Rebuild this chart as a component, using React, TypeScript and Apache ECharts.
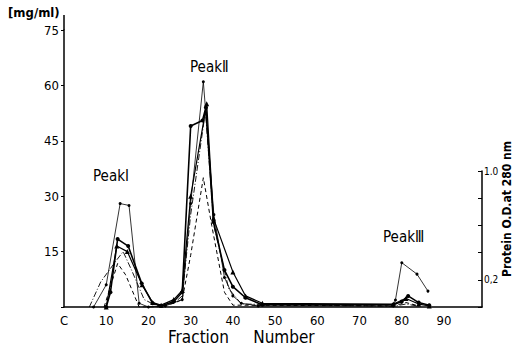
import React, { useEffect, useRef } from "react";
import * as echarts from "echarts";

// Fraction number vs. concentration (mg/ml)
const seriesA: number[][] = [[7, 0], [10, 6], [13.3, 28], [15.4, 27.5], [17.8, 1], [20, 0], [24, 0.3], [28, 2], [30, 28], [33, 61], [35.5, 25], [38, 8], [40, 3], [42, 1], [46, 0.3], [78, 0.3], [78.5, 1.9], [80, 12], [83.6, 8.9], [86.2, 4.3]];
const seriesB: number[][] = [[10, 0], [11, 4], [12.7, 18.4], [15.2, 16.5], [18.4, 6.4], [21, 1], [23, 0.3], [26, 1.5], [28, 4], [30, 49], [32.8, 50.5], [33.6, 54], [35.4, 23], [38, 10], [40, 5.5], [43, 2.5], [47, 0.6], [78, 0.6], [80, 1.5], [81.5, 3], [84, 1.2], [86.5, 0.5]];
const seriesC: number[][] = [[10, 0], [12.5, 16.5], [15, 15], [18.5, 6], [21, 1.2], [23, 0.5], [26, 2], [28, 4.5], [30, 30], [33.8, 55], [35.4, 24], [40, 9.5], [43, 3], [47, 1], [78, 0.8], [81, 2.3], [84, 0.8], [86.5, 0.3]];
const seriesD: number[][] = [[9.5, 0], [12.7, 11.8], [14.6, 8.7], [17.8, 0], [22, 0], [26, 1], [28, 2], [30, 14], [33, 35], [35, 22], [38, 4], [40, 0.5], [78, 0.3], [81, 1.2], [84, 0.3]];
const seriesE: number[][] = [[6, 0], [8.7, 6.8], [12, 12], [14, 15], [16, 10], [19, 2], [22, 0.3], [26, 1], [28, 3], [30, 25], [33.5, 53], [35.5, 22], [39, 5], [42, 0.8], [78, 0.2], [81, 0.8], [84, 0.2]];

const xTickLabels: Record<number, string> = { 0: "C", 10: "10", 20: "20", 30: "30", 40: "40", 50: "50", 60: "60", 70: "70", 80: "80", 90: "90" };
const leftTicks = [15, 30, 45, 60, 75];
const rightTickLabels: Record<string, string> = { "0.2": "0,2", "1": "1.0" };
const peakLabels = ["PeakⅠ", "PeakⅡ", "PeakⅢ"];

const FONT = '"DejaVu Sans Condensed", "DejaVu Sans", sans-serif';

export default function App() {
  const ref = useRef<HTMLDivElement>(null);
  useEffect(() => {
    if (!ref.current) return;
    const chart = echarts.init(ref.current, undefined, { renderer: "svg" });
    const lineSeries = (data: number[][], opts: any) => ({
      type: "line",
      xAxisIndex: 0,
      yAxisIndex: 0,
      data,
      silent: true,
      ...opts,
    });
    chart.setOption({
      animation: false,
      backgroundColor: "#fff",
      grid: [
        { left: 64, right: 36, top: 30, bottom: 43 },
        { left: 64, right: 36, top: 171, bottom: 43 },
      ],
      xAxis: [
        {
          type: "value",
          gridIndex: 0,
          min: 0,
          max: 99,
          interval: 10,
          splitLine: { show: false },
          axisTick: { show: false },
          axisLine: { onZero: false, lineStyle: { color: "#000", width: 1.5 } },
          axisLabel: {
            color: "#000",
            fontSize: 13,
            fontFamily: FONT,
            margin: 7,
            formatter: (v: number) => xTickLabels[v] ?? "",
          },
        },
        { type: "value", gridIndex: 1, min: 0, max: 99, show: false },
      ],
      yAxis: [
        {
          type: "value",
          gridIndex: 0,
          min: 0,
          max: 75,
          interval: 15,
          splitLine: { show: false },
          axisLine: { show: true, onZero: false, lineStyle: { color: "#000", width: 1.5 } },
          axisTick: { show: true, length: 3, lineStyle: { color: "#000" } },
          axisLabel: {
            color: "#000",
            fontSize: 13,
            fontFamily: FONT,
            margin: 5,
            formatter: (v: number) => (leftTicks.includes(v) ? String(v) : ""),
          },
        },
        {
          type: "value",
          gridIndex: 1,
          position: "right",
          min: 0,
          max: 1,
          interval: 0.2,
          splitLine: { show: false },
          axisLine: { show: true, onZero: false, lineStyle: { color: "#000", width: 1.5 } },
          axisTick: { show: true, inside: true, length: 4, lineStyle: { color: "#000" } },
          axisLabel: {
            color: "#000",
            fontSize: 10,
            fontFamily: FONT,
            margin: 2,
            formatter: (v: number) => rightTickLabels[String(Math.round(v * 10) / 10)] ?? "",
          },
        },
      ],
      series: [
        lineSeries(seriesA, { symbol: "circle", symbolSize: 3, itemStyle: { color: "#000" }, lineStyle: { color: "#000", width: 0.8 } }),
        lineSeries(seriesB, { symbol: "circle", symbolSize: 4, itemStyle: { color: "#000" }, lineStyle: { color: "#000", width: 1.6 } }),
        lineSeries(seriesC, { symbol: "triangle", symbolSize: 5, itemStyle: { color: "#000" }, lineStyle: { color: "#000", width: 1.2 } }),
        lineSeries(seriesD, { symbol: "none", lineStyle: { color: "#000", width: 1, type: [4, 3] } }),
        lineSeries(seriesE, { symbol: "none", lineStyle: { color: "#000", width: 0.9, type: [6, 2, 1, 2] } }),
      ],
      graphic: [
        { type: "line", shape: { x1: 64, y1: 15, x2: 64, y2: 30 }, style: { stroke: "#000", lineWidth: 1.5 } },
        { type: "text", left: 8, top: 6, style: { text: "[mg/ml)", font: `bold 13px ${FONT}`, fill: "#000" } },
        { type: "text", left: 93, top: 168, style: { text: peakLabels[0], font: `15px ${FONT}`, fill: "#000" } },
        { type: "text", left: 190, top: 59, style: { text: peakLabels[1], font: `15px ${FONT}`, fill: "#000" } },
        { type: "text", left: 383, top: 229, style: { text: peakLabels[2], font: `15px ${FONT}`, fill: "#000" } },
        { type: "text", left: 168, top: 328, style: { text: "Fraction     Number", font: `17px ${FONT}`, fill: "#000" } },
        {
          type: "text",
          x: 507,
          y: 209,
          rotation: Math.PI / 2,
          style: { text: "Protein O.D.at 280 nm", font: `bold 12px ${FONT}`, fill: "#000", align: "center", verticalAlign: "middle" },
        },
      ],
    });
    return () => chart.dispose();
  }, []);
  return <div ref={ref} style={{ position: "fixed", left: 0, top: 0, width: 518, height: 350 }} />;
}
